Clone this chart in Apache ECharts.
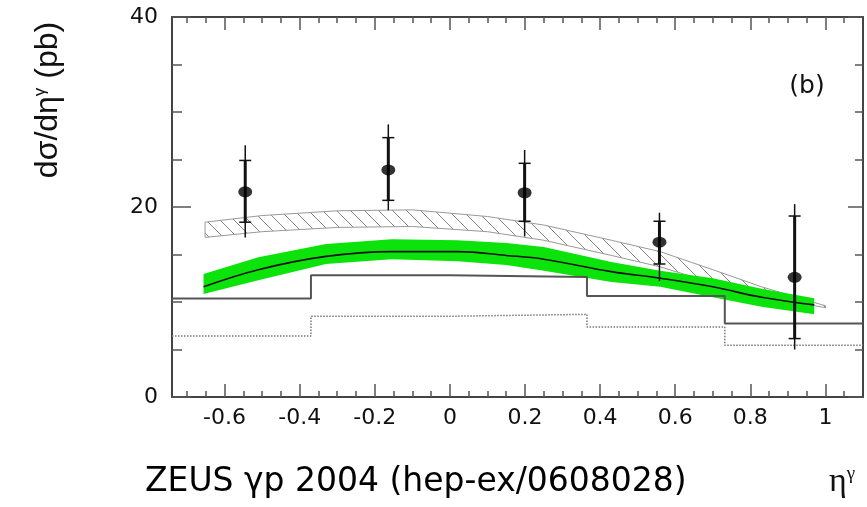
<!DOCTYPE html>
<html>
<head>
<meta charset="utf-8">
<script src="https://cdn.jsdelivr.net/npm/echarts@6/dist/echarts.min.js"></script>
<style>
    html, body {margin: 0; padding: 0; background: #fff;}
    #chart {width: 867px; height: 507px;}
</style>
</head>
<body>
<div id="chart"></div>
<script>
// ZEUS data points (eta, value) with stat (inner) and total (outer) errors
var dataEta = [-0.545, -0.164, 0.199, 0.558, 0.918];
var dataVal = [21.6, 23.9, 21.5, 16.3, 12.6];
var statLo = [18.4, 20.7, 18.5, 14.0, 6.15];
var statHi = [24.9, 27.3, 24.6, 18.5, 19.05];
var totLo = [16.8, 19.65, 16.9, 12.2, 5.0];
var totHi = [26.5, 28.7, 26.0, 19.4, 20.3];

// histograms (bin edges, value per bin)
var binEdges = [-0.74, -0.37, 0, 0.365, 0.732, 1.1];
var histSolid = [10.36, 12.81, 12.63, 10.63, 7.75];
var histDotted = [6.42, 8.5, 8.7, 7.37, 5.44];

// NLO green band + central line
var nloEta = [-0.656, -0.51, -0.33, -0.155, 0.02, 0.15, 0.25, 0.43, 0.56, 0.7, 0.83, 0.97];
var nloMid = [11.6, 13.4, 14.8, 15.3, 15.3, 14.9, 14.5, 13.2, 12.5, 11.6, 10.5, 9.7];
var nloHi = [12.95, 14.7, 16.1, 16.6, 16.5, 16.2, 15.8, 14.2, 13.3, 12.5, 11.4, 10.4];
var nloLo = [10.85, 12.3, 14.0, 14.5, 14.3, 13.9, 13.3, 12.1, 11.6, 10.5, 9.5, 8.7];

// hatched band
var hatchEta = [-0.652, -0.5, -0.3, -0.1, 0.1, 0.25, 0.43, 0.56, 0.7, 0.83, 1.0];
var hatchHi = [18.4, 19.1, 19.6, 19.7, 19.0, 18.1, 16.5, 15.3, 13.4, 11.6, 9.6];
var hatchLo = [16.8, 17.4, 17.85, 17.95, 17.4, 16.5, 14.9, 13.7, 12.0, 10.6, 9.4];

// axis ticks
var xMajor = [-0.6, -0.4, -0.2, 0, 0.2, 0.4, 0.6, 0.8, 1];
var xMinor = [-0.7, -0.65, -0.6, -0.55, -0.5, -0.45, -0.4, -0.35, -0.3, -0.25, -0.2, -0.15, -0.1, -0.05, 0,
    0.05, 0.1, 0.15, 0.2, 0.25, 0.3, 0.35, 0.4, 0.45, 0.5, 0.55, 0.6, 0.65, 0.7, 0.75, 0.8, 0.85, 0.9, 0.95, 1, 1.05];
var yMajor = [0, 20, 40];
var yMinor = [5, 10, 15, 25, 30, 35];

var X_MIN = -0.74, X_MAX = 1.1;

function histData(edges, vals){
    var d = [];
    for(var i=0;i<vals.length;i++){
        d.push([edges[i], vals[i]]);
    }
    d.push([edges[edges.length-1], vals[vals.length-1]]);
    return d;
}

function pairs(xs, ys){
    var d = [];
    for(var i=0;i<xs.length;i++){
        d.push([xs[i], ys[i]]);
    }
    return d;
}

function hatchPattern(){
    var c = document.createElement('canvas');
    c.width = 14;
    c.height = 14;
    var ctx = c.getContext('2d');
    ctx.strokeStyle = '#858585';
    ctx.lineWidth = 1;
    ctx.beginPath();
    ctx.moveTo(-1, -1); ctx.lineTo(15, 15);
    ctx.moveTo(-1, 13); ctx.lineTo(1, 15);
    ctx.moveTo(13, -1); ctx.lineTo(15, 1);
    ctx.stroke();
    return c;
}

// one polygon between lo and hi, placed through the axes
function bandSeries(xs, lo, hi, style, z){
    return {
        type: 'custom',
        z: z,
        data: [0],
        renderItem: function (params, api) {
            var pts = [];
            for(var i=0;i<xs.length;i++){
                pts.push(api.coord([xs[i], hi[i]]));
            }
            for(var j=xs.length-1;j>=0;j--){
                pts.push(api.coord([xs[j], lo[j]]));
            }
            return {type: 'polygon', shape: {points: pts}, style: style};
        }
    };
}

function xAxisCfg(pos, ticks, len, withLine, labels){
    return {
        type: 'value', min: X_MIN, max: X_MAX, position: pos,
        axisLine: {show: withLine, onZero: false, lineStyle: {color: '#444', width: 2}},
        axisTick: {show: true, inside: true, length: len, customValues: ticks, lineStyle: {color: '#555', width: 1.5}},
        axisLabel: labels ? {show: true, customValues: labels, margin: 10, color: '#111', fontSize: 22, fontFamily: 'DejaVu Sans'} : {show: false},
        splitLine: {show: false}
    };
}

function yAxisCfg(pos, ticks, len, withLine, labels){
    return {
        type: 'value', min: 0, max: 40, position: pos,
        axisLine: {show: withLine, onZero: false, lineStyle: {color: '#444', width: 2}},
        axisTick: {show: true, inside: true, length: len, customValues: ticks, lineStyle: {color: '#555', width: 1.5}},
        axisLabel: labels ? {show: true, customValues: labels, margin: 14, color: '#111', fontSize: 22, fontFamily: 'DejaVu Sans'} : {show: false},
        splitLine: {show: false}
    };
}

var errData = [];
for(var k=0;k<dataEta.length;k++){
    errData.push([dataEta[k], totLo[k], totHi[k], statLo[k], statHi[k]]);
}

var chart = echarts.init(document.getElementById('chart'));
var option = {
    backgroundColor: '#fff',
    animation: false,
    grid: {left: 172, right: 4, top: 17, bottom: 110, outerBoundsMode: 'none'},
    xAxis: [
        xAxisCfg('bottom', xMajor, 13, true, xMajor),
        xAxisCfg('bottom', xMinor, 6, false, null),
        xAxisCfg('top', xMajor, 13, true, null),
        xAxisCfg('top', xMinor, 6, false, null)
    ],
    yAxis: [
        yAxisCfg('left', yMajor, 19, true, yMajor),
        yAxisCfg('left', yMinor, 10, false, null),
        yAxisCfg('right', yMajor, 15, true, null),
        yAxisCfg('right', yMinor, 8, false, null)
    ],
    graphic: [
        {
            type: 'text', x: 48, y: 100, rotation: Math.PI / 2,
            style: {
                text: '{a|dσ/dη}{s|γ}{a| (pb)}',
                align: 'center', verticalAlign: 'middle', fill: '#111',
                rich: {
                    a: {fontSize: 32, fontFamily: 'Liberation Sans', fill: '#111'},
                    s: {fontSize: 17, fontFamily: 'Liberation Sans', fill: '#111', verticalAlign: 'top'}
                }
            }
        },
        {
            type: 'text', x: 807, y: 86,
            style: {text: '(b)', align: 'center', verticalAlign: 'middle', fontSize: 25, fontFamily: 'DejaVu Sans', fill: '#111'}
        },
        {
            type: 'text', x: 145, y: 482,
            style: {text: 'ZEUS γp 2004 (hep-ex/0608028)', verticalAlign: 'middle', fontSize: 33, fontFamily: 'DejaVu Sans', fill: '#000'}
        },
        {
            type: 'text', x: 829, y: 482,
            style: {
                text: '{e|η}{g|γ}', verticalAlign: 'middle',
                rich: {
                    e: {fontSize: 34, fontFamily: 'Liberation Serif', fill: '#111'},
                    g: {fontSize: 19, fontFamily: 'Liberation Serif', fill: '#111', verticalAlign: 'top'}
                }
            }
        }
    ],
    series: [
        bandSeries(hatchEta, hatchLo, hatchHi, {fill: {image: hatchPattern(), repeat: 'repeat'}, stroke: '#999', lineWidth: 1}, 1),
        bandSeries(nloEta, nloLo, nloHi, {fill: '#0be30b', stroke: null}, 1),
        {
            type: 'line', z: 2, step: 'end', showSymbol: false,
            data: histData(binEdges, histSolid),
            lineStyle: {color: '#555', width: 2}
        },
        {
            type: 'line', z: 2, step: 'end', showSymbol: false,
            data: histData(binEdges, histDotted),
            lineStyle: {color: '#777', width: 1.5, type: 'dotted'}
        },
        {
            type: 'line', z: 3, smooth: 0.4, showSymbol: false,
            data: pairs(nloEta, nloMid),
            lineStyle: {color: '#111', width: 1.6}
        },
        {
            type: 'custom', z: 4,
            data: errData,
            renderItem: function (params, api) {
                var x = api.value(0);
                var a = api.coord([x, api.value(1)]);
                var b = api.coord([x, api.value(2)]);
                var c = api.coord([x, api.value(3)]);
                var d = api.coord([x, api.value(4)]);
                var st = {stroke: '#111', lineWidth: 1.5};
                return {
                    type: 'group',
                    children: [
                        {type: 'line', shape: {x1: a[0], y1: a[1], x2: b[0], y2: b[1]}, style: st},
                        {type: 'line', shape: {x1: c[0], y1: c[1], x2: d[0], y2: d[1]}, style: {stroke: '#111', lineWidth: 3}},
                        {type: 'line', shape: {x1: c[0] - 6, y1: c[1], x2: c[0] + 6, y2: c[1]}, style: st},
                        {type: 'line', shape: {x1: d[0] - 6, y1: d[1], x2: d[0] + 6, y2: d[1]}, style: st}
                    ]
                };
            }
        },
        {
            type: 'scatter', z: 5,
            symbol: 'circle', symbolSize: [14, 11],
            data: pairs(dataEta, dataVal),
            itemStyle: {color: '#000'}
        }
    ]
};
chart.setOption(option);
</script>
</body>
</html>
